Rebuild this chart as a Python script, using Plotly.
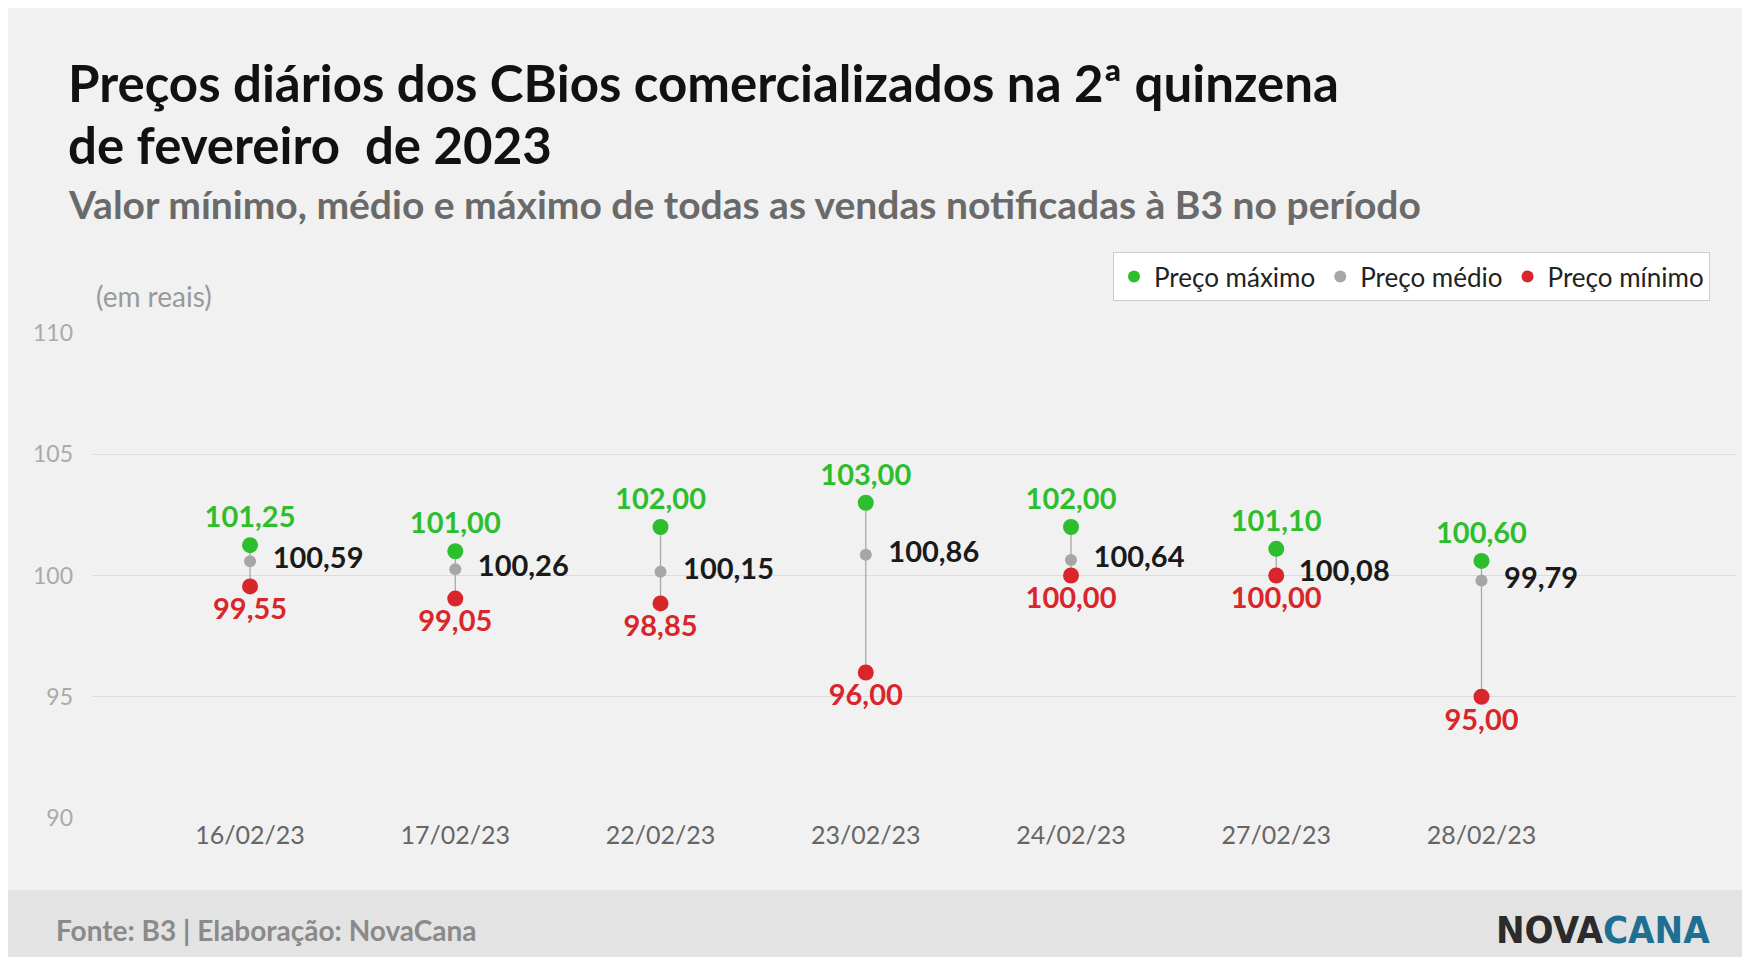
import plotly.graph_objects as go

dates = ["16/02/23", "17/02/23", "22/02/23", "23/02/23", "24/02/23", "27/02/23", "28/02/23"]
price_max = [101.25, 101.00, 102.00, 103.00, 102.00, 101.10, 100.60]
price_avg = [100.59, 100.26, 100.15, 100.86, 100.64, 100.08, 99.79]
price_min = [99.55, 99.05, 98.85, 96.00, 100.00, 100.00, 95.00]

W, H = 1750, 957
TOP, BOTTOM = 325, 147
PLOT_H = H - TOP - BOTTOM


def py(pix):
    """Pixel row -> paper y."""
    return (H - BOTTOM - pix) / PLOT_H


fig = go.Figure()

# connecting stems
for i in range(len(dates)):
    fig.add_trace(go.Scatter(
        x=[i, i], y=[price_min[i], price_max[i]], mode="lines",
        line=dict(color="#a8a8a8", width=1.3), showlegend=False, hoverinfo="skip",
    ))

x = list(range(len(dates)))
fig.add_trace(go.Scatter(
    x=x, y=price_max, name="Preço máximo", mode="markers+text",
    marker=dict(color="#2dbe2d", size=16),
    texttemplate="%{y:.2f}", textposition="top center",
    textfont=dict(color="#2dbe2d", size=29, family="Lato", weight="bold"),
))
fig.add_trace(go.Scatter(
    x=x, y=price_avg, name="Preço médio", mode="markers+text",
    marker=dict(color="#a6a6a6", size=12),
    texttemplate="  %{y:.2f}", textposition="middle right",
    textfont=dict(color="#1a1a1a", size=29, family="Lato", weight="bold"),
))
fig.add_trace(go.Scatter(
    x=x, y=price_min, name="Preço mínimo", mode="markers+text",
    marker=dict(color="#d9262b", size=16),
    texttemplate="%{y:.2f}", textposition="bottom center",
    textfont=dict(color="#d9262b", size=29, family="Lato", weight="bold"),
))

annotations = [
    dict(text="<b>Preços diários dos CBios comercializados na 2ª quinzena</b>",
         x=58, y=py(74), font=dict(size=51, color="#111")),
    dict(text="<b>de fevereiro  de 2023</b>", x=58, y=py(136), font=dict(size=51, color="#111")),
    dict(text="<b>Valor mínimo, médio e máximo de todas as vendas notificadas à B3 no período</b>",
         x=58, y=py(196), font=dict(size=39, color="#6a6a6a")),
    dict(text="(em reais)", x=86, y=py(288), font=dict(size=28, color="#999")),
    dict(text="<b>Fonte: B3 | Elaboração: NovaCana</b>", x=46, y=py(922),
         font=dict(size=28, color="#8a8a8a")),
]
for a in annotations:
    a.update(xref="paper", yref="paper", xanchor="left", yanchor="middle", showarrow=False)
    a["x"] = (a["x"] - 84) / (W - 84 - 22)
    a["font"]["family"] = "Lato"
fig.update_layout(annotations=annotations)
fig.add_annotation(
    text="<b>NOVA<span style='color:#1f6f93'>CANA</span></b>",
    xref="paper", yref="paper", x=(1704 - 84) / (W - 106), y=py(922),
    xanchor="right", yanchor="middle", showarrow=False,
    font=dict(family="DejaVu Sans Condensed", size=38, color="#2b2b2b"),
)

# footer band
fig.add_shape(type="rect", xref="paper", yref="paper", x0=-1, x1=2,
              y0=py(H + 5), y1=py(882), fillcolor="#e3e3e3", line_width=0, layer="below")

fig.update_layout(
    width=W, height=H, separators=",.",
    margin=dict(l=84, r=22, t=TOP, b=BOTTOM),
    paper_bgcolor="#f1f1f1", plot_bgcolor="#f1f1f1",
    font=dict(family="Lato", color="#666"),
    xaxis=dict(range=[-0.77, 7.24], tickvals=x, ticktext=dates, showgrid=False,
               zeroline=False, tickfont=dict(size=25, color="#666"), ticklen=0),
    yaxis=dict(range=[90, 110], dtick=5, gridcolor="#dcdcdc", zeroline=False,
               tickfont=dict(size=23, color="#aaa"), ticklabelstandoff=18),
    legend=dict(orientation="h", xref="paper", yref="paper",
                x=(1702 - 84) / (W - 106), xanchor="right", y=py(244), yanchor="top",
                bgcolor="#ffffff", bordercolor="#cccccc", borderwidth=1,
                font=dict(size=26, color="#222"), itemsizing="constant"),
    showlegend=True,
)

fig.write_html("out.html")
